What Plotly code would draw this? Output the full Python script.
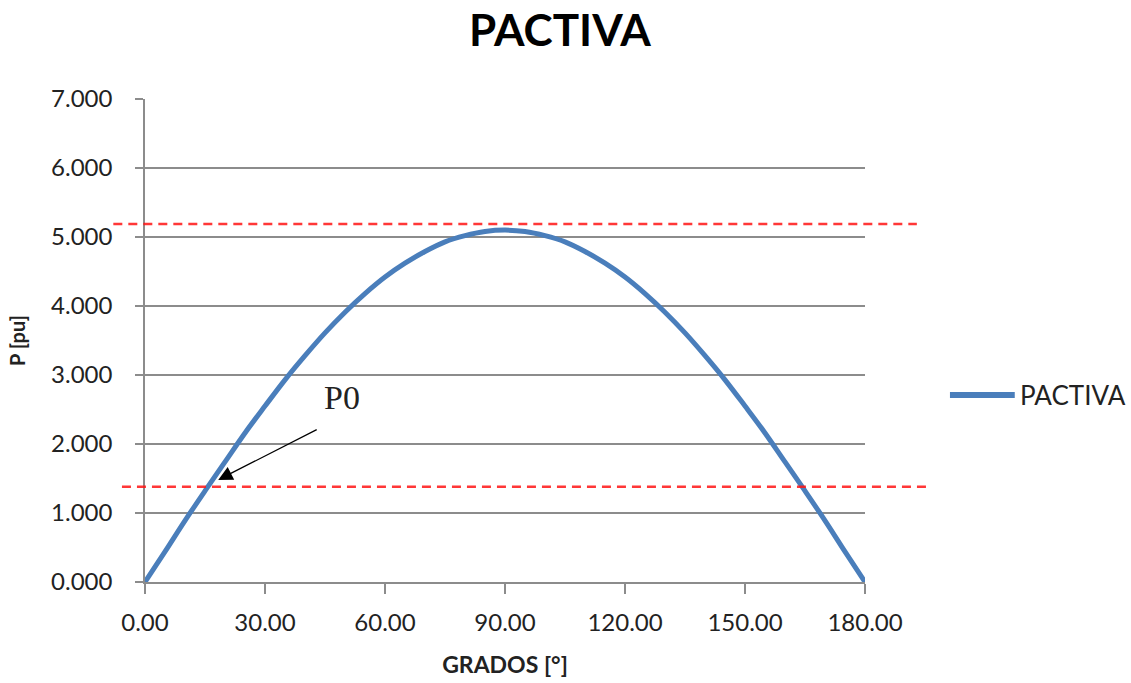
import plotly.graph_objects as go

grados = [0, 5, 10, 15, 20, 25, 30, 35, 40, 45, 50, 55, 60, 65, 70, 75, 80, 85, 90,
          95, 100, 105, 110, 115, 120, 125, 130, 135, 140, 145, 150, 155, 160, 165, 170, 175, 180]
pactiva = [0.00, 0.44, 0.89, 1.32, 1.74, 2.16, 2.55, 2.93, 3.28, 3.61, 3.91, 4.18, 4.42, 4.62,
           4.79, 4.93, 5.02, 5.08, 5.10, 5.08, 5.02, 4.93, 4.79, 4.62, 4.42, 4.18, 3.91, 3.61,
           3.28, 2.93, 2.55, 2.16, 1.74, 1.32, 0.89, 0.44, 0.00]
pmax_line = 5.19
p0_line = 1.38
x_ticks = [0, 30, 60, 90, 120, 150, 180]
x_ticklabels = ["0.00", "30.00", "60.00", "90.00", "120.00", "150.00", "180.00"]
y_ticks = [0, 1, 2, 3, 4, 5, 6, 7]
y_ticklabels = ["0.000", "1.000", "2.000", "3.000", "4.000", "5.000", "6.000", "7.000"]
y_max = 7
series_name = "PACTIVA"
series_color = "#4a7ebb"

font = "Lato, 'Open Sans', sans-serif"
grid = "#8c8c8c"

fig = go.Figure()
fig.add_trace(go.Scatter(x=grados, y=pactiva, mode="lines", name=series_name, showlegend=False,
                         line=dict(color=series_color, width=5, shape="spline")))

fig.update_layout(
    width=1131, height=683,
    margin=dict(l=145, r=266, t=99, b=101, autoexpand=False),
    paper_bgcolor="white", plot_bgcolor="white",
    title=dict(text="<b>PACTIVA</b>", x=0.495, xanchor="center", y=0.955, yanchor="middle",
               font=dict(family=font, size=44, color="black")),
    font=dict(family=font, color="#222"),
    xaxis=dict(range=[0, 180], tickvals=x_ticks, ticktext=x_ticklabels, automargin=False,
               showgrid=False, zeroline=False, showline=True, linecolor=grid, linewidth=1.5,
               ticks="outside", ticklen=10, tickcolor=grid, tickwidth=1.5,
               tickfont=dict(size=24, color="#222"), ticklabelstandoff=8,
               title=dict(text="<b>GRADOS [°]</b>", font=dict(size=23, color="#222"), standoff=22)),
    yaxis=dict(range=[0, y_max], tickvals=y_ticks, ticktext=y_ticklabels, automargin=False,
               showgrid=True, gridcolor=grid, gridwidth=1.5, zeroline=False,
               showline=True, linecolor=grid, linewidth=1.5,
               ticks="outside", ticklen=8, tickcolor=grid, tickwidth=1.5,
               tickfont=dict(size=24, color="#222"), ticklabelstandoff=18,
               title=dict(text="<b>P [pu]</b>", font=dict(size=20, color="#222"), standoff=20)),
)

# dashed reference lines extending beyond the plot area
fig.add_shape(type="line", xref="paper", yref="paper", x0=-0.044, x1=1.072,
              y0=pmax_line / y_max, y1=pmax_line / y_max,
              line=dict(color="rgba(255,20,20,0.85)", width=2.5, dash="9px,6px"))
fig.add_shape(type="line", xref="paper", yref="paper", x0=-0.032, x1=1.086,
              y0=p0_line / y_max, y1=p0_line / y_max,
              line=dict(color="rgba(255,20,20,0.85)", width=2.5, dash="9px,6px"))

# legend (drawn to match the long sample line)
leg_y = 0.387
fig.add_shape(type="line", xref="paper", yref="paper", x0=1.118, x1=1.208, y0=leg_y, y1=leg_y,
              line=dict(color=series_color, width=6))
fig.add_annotation(x=1.213, y=leg_y, xref="paper", yref="paper", text=series_name,
                   showarrow=False, xanchor="left", yanchor="middle",
                   font=dict(family=font, size=26, color="#222"))

# arrow to P0
fig.add_annotation(x=18.3, y=1.48, ax=100, ay=-51, xref="x", yref="y", text="",
                   showarrow=True, arrowhead=2, arrowsize=2.2, arrowwidth=1.3, arrowcolor="black")
fig.add_annotation(x=49.3, y=2.67, xref="x", yref="y", text="P0", showarrow=False,
                   font=dict(family="'Liberation Serif', 'DejaVu Serif', serif", size=34, color="#222"))

fig.write_html("out.html")
